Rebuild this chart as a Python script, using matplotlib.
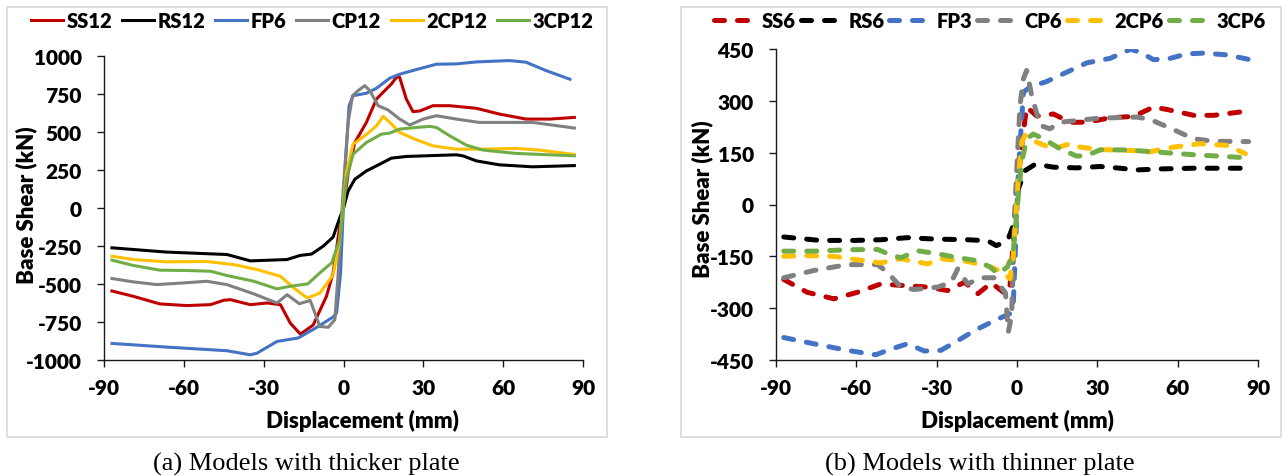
import matplotlib.pyplot as plt
from matplotlib.patches import Rectangle

plt.rcParams['font.family'] = ['Lato', 'DejaVu Sans']
plt.rcParams['axes.unicode_minus'] = False

# ---- (a) thicker plate ----
ss12_x = [-87, -79, -69, -59, -50, -45, -42.5, -35, -28.7, -23.7, -20, -16.2, -11.4, -6.4, -3.9, -1.4, 0, 1.75,
          4.25, 8.6, 12.4, 16.1, 18, 19.9, 21.1, 23.6, 26.1, 28.6, 33.6, 39.9, 49.9, 58.6, 68.6, 77.4, 86.75]
ss12_y = [-546, -581, -631, -642, -636, -607, -603, -636, -625, -636, -757, -830, -770, -581, -427, -119, 0, 233,
          431, 563, 717, 783, 816, 860, 860, 717, 634, 638, 673, 673, 656, 618, 585, 585, 596]

rs12_x = [-87, -66.5, -43.8, -35, -21.2, -16.3, -12, -7.6, -3.9, -1.4, 0, 1.75, 4.25, 8.6, 13.6, 18, 23.6,
          33.6, 42.4, 44.9, 49.9, 58.6, 71.1, 86.75]
rs12_y = [-262, -290, -306, -348, -339, -312, -303, -251, -191, -64, 0, 112, 189, 244, 288, 328, 339,
          345, 350, 343, 310, 284, 271, 279]

fp6_x = [-87, -66.5, -43.8, -35, -32.5, -25, -17, -10.5, -3.9, -2.6, -1.1, 0.5, 2.1, 3.6, 8.6, 12.4, 17.4,
         21.1, 27.4, 34.9, 42.4, 49.9, 62.4, 68.6, 76.1, 85.1]
fp6_y = [-891, -915, -939, -966, -955, -878, -855, -790, -717, -691, -427, 233, 673, 739, 755, 788, 854,
         880, 911, 946, 948, 961, 970, 959, 904, 847]

cp12_x = [-87, -79, -70.2, -60.2, -51.4, -43.8, -33.7, -25, -21.2, -16.6, -12.5, -8.9, -5.75, -3.25, -2, -0.1,
          1.75, 3.4, 5.5, 8, 9.9, 13, 16.75, 21.1, 24.9, 29.9, 34.9, 42.4, 51.1, 58.6, 71.1, 86.75]
cp12_y = [-464, -486, -504, -493, -482, -504, -565, -625, -570, -630, -608, -779, -785, -735, -427, 123,
          563, 739, 772, 805, 772, 673, 645, 585, 546, 585, 607, 585, 563, 563, 563, 526]

cp2_12_x = [-87, -79, -66.5, -51.4, -41.3, -32.5, -23.7, -18.7, -13.6, -8.9, -3.9, -1.4, 1.1, 3.6, 8, 12.4,
            14.9, 17.4, 21.1, 27.4, 33.6, 42.4, 52.4, 64.9, 73.6, 86.75]
cp2_12_y = [-317, -339, -354, -352, -372, -405, -449, -526, -592, -560, -440, -207, 233, 420, 475, 541,
            603, 563, 497, 449, 409, 387, 387, 392, 381, 352]

cp3_12_x = [-87, -79, -69, -59, -50, -43.8, -33.7, -25, -20, -13.4, -8.9, -4.4, -1.4, 1.1, 3.6, 8.6, 14.25,
            17.4, 21.1, 27.4, 32.4, 34.9, 39.9, 46.1, 52.4, 64.9, 86.75]
cp3_12_y = [-343, -378, -409, -411, -416, -444, -482, -532, -515, -499, -427, -360, -207, 189, 354, 431, 486,
            493, 519, 530, 537, 530, 475, 414, 381, 359, 343]

# ---- (b) thinner plate ----
ss6_x = [-87.1, -78.4, -68.4, -59.6, -50.9, -43.4, -33.4, -25.9, -19.6, -14.6, -9.6, -4, -2.6, -0.1, 1.75,
         3.6, 7.4, 13.6, 19.8, 26.1, 34.8, 43.5, 51, 56, 66, 73.4, 84.7]
ss6_y = [-217, -254, -273, -254, -230, -234, -239, -249, -225, -258, -227, -260, -234, 26, 171,
         282, 256, 262, 238, 238, 251, 255, 282, 275, 258, 258, 269]

rs6_x = [-87.1, -73.4, -60.9, -50.9, -40.9, -30.9, -18.4, -10.9, -7.75, -5.5, -3.25, -1.4, 0.5, 3, 6.7,
         9.85, 13.6, 22.3, 31, 38.5, 44.8, 53.5, 66, 86.5]
rs6_y = [-94, -104, -104, -102, -96, -100, -102, -105, -119, -112, -99, -61, 45, 98, 116,
         113, 108, 106, 110, 105, 100, 103, 105, 105]

fp3_x = [-87.1, -75.9, -63.4, -52.75, -48.4, -40.9, -34.6, -28.4, -22.1, -15.9, -8.4, -2.7, -1.4, 0.5, 2.4,
         4.9, 11.1, 18.6, 26.1, 34.8, 42.3, 46, 51, 57.2, 63.5, 69.7, 78.4, 86.5]
fp3_y = [-385, -403, -422, -435, -422, -403, -424, -422, -394, -365, -336, -316, -292, 94, 325,
         340, 356, 383, 410, 423, 449, 441, 419, 423, 436, 438, 433, 420]

cp6_x = [-87.1, -75.9, -63.4, -52.1, -48.4, -43.4, -38.4, -29.6, -24.6, -22.1, -18.4, -13.6, -8.6, -4.3,
         -3.25, -2, -0.75, 1.1, 2.4, 3.6, 5.5, 8.6, 12.3, 16.1, 22.3, 31, 44.8, 49.75, 57.2, 66, 73.4, 86.5]
cp6_y = [-212, -191, -174, -174, -196, -239, -246, -239, -225, -186, -230, -212, -212, -256,
         -369, -321, -3, 286, 364, 388, 315, 229, 219, 238, 243, 250, 253, 246, 221, 190, 183, 182]

cp2_6_x = [-87.1, -78.4, -68.4, -59.6, -50.9, -43.4, -33.4, -28.4, -18.4, -9.8, -5.1, -2.6, -1.4, 0.5, 1.75,
           3, 7.4, 13.6, 19.8, 23.6, 31, 43.5, 48.5, 58.5, 68.5, 78.4, 85.3]
cp2_6_y = [-150, -148, -150, -160, -169, -157, -172, -157, -165, -181, -196, -215, -148, 74, 180,
           200, 180, 161, 176, 166, 159, 156, 151, 166, 176, 171, 147]

cp3_6_x = [-87.1, -75.9, -63.4, -52.1, -47.1, -43.4, -37.1, -30.9, -23.4, -15.5, -10.2, -7, -3.5, -1.4, 0.5,
           1.75, 3.6, 6.1, 9.85, 16.1, 22.3, 26.1, 31, 41, 53.5, 66, 86.5]
cp3_6_y = [-135, -135, -131, -130, -146, -154, -134, -141, -152, -162, -180, -201, -180, -138, 26,
           123, 190, 204, 190, 161, 140, 142, 158, 158, 151, 144, 135]

colors = ["#C00000", "#000000", "#4472C4", "#808080", "#FFC000", "#70AD47"]
names_a = ["SS12", "RS12", "FP6", "CP12", "2CP12", "3CP12"]
names_b = ["SS6", "RS6", "FP3", "CP6", "2CP6", "3CP6"]
series_a = [(ss12_x, ss12_y), (rs12_x, rs12_y), (fp6_x, fp6_y), (cp12_x, cp12_y),
            (cp2_12_x, cp2_12_y), (cp3_12_x, cp3_12_y)]
series_b = [(ss6_x, ss6_y), (rs6_x, rs6_y), (fp3_x, fp3_y), (cp6_x, cp6_y),
            (cp2_6_x, cp2_6_y), (cp3_6_x, cp3_6_y)]

W, H = 1288, 477
fig = plt.figure(figsize=(W / 100, H / 100), dpi=100)


def fx(px):
    return px / W


def fy(py):
    return 1 - py / H


# panel frames
for x0, x1 in [(7, 607), (681, 1281)]:
    fig.patches.append(Rectangle((fx(x0), fy(438)), fx(x1 - x0), (438 - 8) / H, transform=fig.transFigure,
                                 fill=False, edgecolor="#D9D9D9", lw=1.2))

ax1 = fig.add_axes([fx(104), fy(361), fx(583 - 104), (361 - 57) / H])
ax2 = fig.add_axes([fx(776), fy(361), fx(1258 - 776), (361 - 50) / H])

for (x, y), name, c in zip(series_a, names_a, colors):
    ax1.plot(x, y, color=c, lw=2.2, label=name, solid_joinstyle="round")

for (x, y), name, c in zip(series_b, names_b, colors):
    ax2.plot(x, y, color=c, lw=3.6, label=name, dashes=(2, 2.6), dash_capstyle="round",
             dash_joinstyle="round")

ax1.set_ylim(-1000, 1000)
ax1.set_yticks(range(-1000, 1001, 250))
ax2.set_ylim(-450, 450)
ax2.set_yticks(range(-450, 451, 150))

for ax in (ax1, ax2):
    ax.set_xlim(-90, 90)
    ax.set_xticks(range(-90, 91, 30))
    ax.spines["top"].set_visible(False)
    ax.spines["right"].set_visible(False)
    for s in ("left", "bottom"):
        ax.spines[s].set_color("#1a1a1a")
        ax.spines[s].set_linewidth(1.0)
    ax.tick_params(axis="both", direction="out", length=5, width=1.0, color="#1a1a1a",
                   labelsize=15)
    ax.tick_params(axis="y", pad=11)
    ax.tick_params(axis="x", pad=8)
    for lab in ax.get_xticklabels() + ax.get_yticklabels():
        lab.set_fontweight("heavy")
    ax.set_facecolor("none")

# axis titles
tkw = dict(ha="center", va="center", fontsize=16, fontweight="heavy")
fig.text(fx(362), fy(421), "Displacement (mm)", **tkw)
fig.text(fx(1017), fy(421), "Displacement (mm)", **tkw)
fig.text(fx(26), fy(205), "Base Shear (kN)", rotation=90, **tkw)
fig.text(fx(702), fy(199), "Base Shear (kN)", rotation=90, **tkw)

# legends
leg_kw = dict(loc="center", ncol=6, frameon=False, handletextpad=0.15,
              prop={"weight": "heavy", "size": 14.5}, borderaxespad=0, borderpad=0)
fig.legend(*ax1.get_legend_handles_labels(), bbox_to_anchor=(fx(312), fy(22)),
           handlelength=1.6, columnspacing=0.5, **leg_kw)
fig.legend(*ax2.get_legend_handles_labels(), bbox_to_anchor=(fx(990), fy(22)),
           handlelength=2.2, columnspacing=0.25, **leg_kw)

# captions
fig.text(fx(306), fy(464), "(a) Models with thicker plate", ha="center", va="center",
         fontsize=19, family="Liberation Serif")
fig.text(fx(980), fy(464), "(b) Models with thinner plate", ha="center", va="center",
         fontsize=19, family="Liberation Serif")

fig.savefig("out.png", dpi=100)
